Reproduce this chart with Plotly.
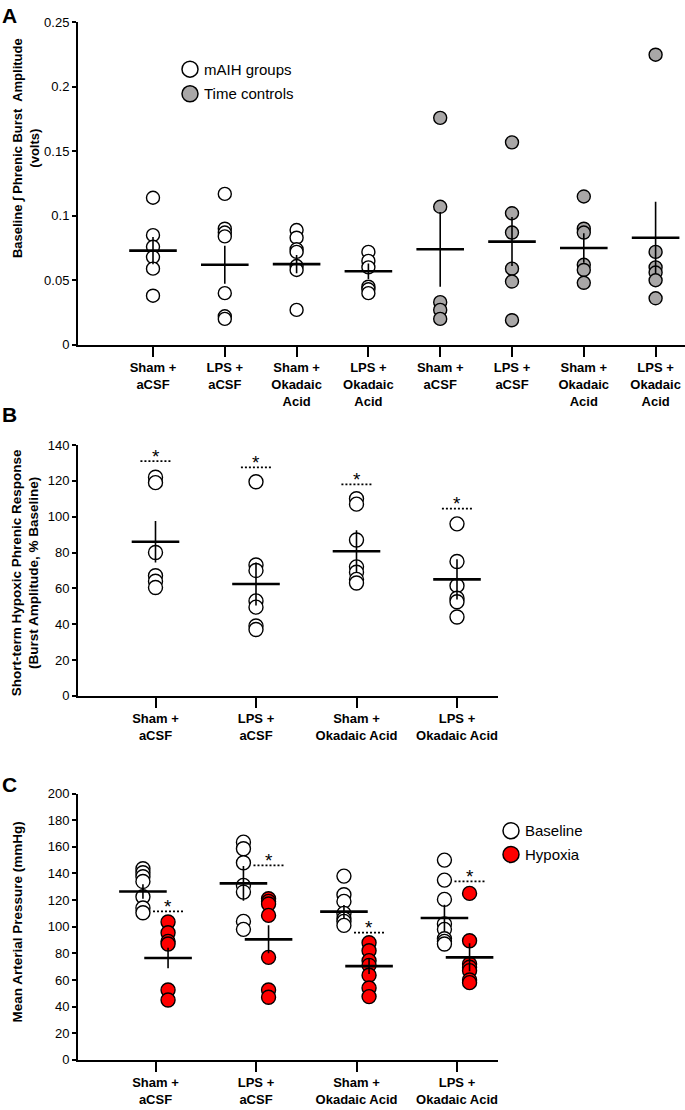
import plotly.graph_objects as go

ARIAL = "Liberation Sans, Arial, sans-serif"

W, H = 685, 1110

# ---------------- Panel A data ----------------
A_labels = ["Sham +<br>aCSF", "LPS +<br>aCSF", "Sham +<br>Okadaic<br>Acid", "LPS +<br>Okadaic<br>Acid",
            "Sham +<br>aCSF", "LPS +<br>aCSF", "Sham +<br>Okadaic<br>Acid", "LPS +<br>Okadaic<br>Acid"]
A_maih = [
    [0.114, 0.085, 0.076, 0.068, 0.059, 0.038],
    [0.117, 0.090, 0.087, 0.084, 0.040, 0.022, 0.020],
    [0.089, 0.083, 0.074, 0.072, 0.061, 0.058, 0.027],
    [0.072, 0.065, 0.060, 0.045, 0.043, 0.040],
]
A_tc = [
    [0.176, 0.107, 0.033, 0.027, 0.020],
    [0.157, 0.102, 0.087, 0.059, 0.049, 0.019],
    [0.115, 0.090, 0.087, 0.062, 0.058, 0.048],
    [0.225, 0.072, 0.060, 0.056, 0.050, 0.036],
]
A_mean = [0.073, 0.062, 0.0625, 0.057, 0.074, 0.080, 0.075, 0.083]
A_sem = [0.0106, 0.0147, 0.007, 0.006, 0.029, 0.019, 0.0115, 0.028]
A_ticks = [0, 0.05, 0.1, 0.15, 0.2, 0.25]
A_ticktext = ["0", "0.05", "0.1", "0.15", "0.2", "0.25"]
A_legend = ["mAIH groups", "Time controls"]

# ---------------- Panel B data ----------------
B_labels = ["Sham +<br>aCSF", "LPS +<br>aCSF", "Sham +<br>Okadaic Acid", "LPS +<br>Okadaic Acid"]
B_vals = [
    [122, 119, 80, 67, 64, 60.5],
    [119.5, 73, 70, 53, 49.5, 39, 37],
    [110, 107, 87, 72, 69, 65, 63],
    [96, 75, 61.5, 54.5, 52.5, 44],
]
B_mean = [86, 62.4, 80.7, 65]
B_sem = [11.6, 12, 11.7, 11.2]
B_sig = [131, 127.5, 118, 104.5]

# ---------------- Panel C data ----------------
C_labels = ["Sham +<br>aCSF", "LPS +<br>aCSF", "Sham +<br>Okadaic Acid", "LPS +<br>Okadaic Acid"]
C_base = [
    [143.5, 140.5, 137.5, 134, 122.5, 114, 110.5],
    [163.5, 158.5, 148, 131, 126, 104, 98],
    [138, 124, 119, 110, 106, 104, 101],
    [150, 135, 120.5, 102, 98, 91, 89, 87],
]
C_hyp = [
    [103.5, 95.5, 89, 87, 52.5, 45],
    [121, 119, 117, 108.5, 77, 52.5, 47],
    [88, 82, 74.5, 71, 63.5, 54, 47.5],
    [125, 89.5, 72, 69.5, 67, 60, 58],
]
C_base_mean = [126.4, 132.5, 111.3, 106.5]
C_base_sem = [5.5, 13, 5, 10]
C_hyp_mean = [76.5, 90.5, 70.4, 77]
C_hyp_sem = [7.7, 10.5, 6, 10.5]
C_sig = [111.5, 146, 95.5, 134]
C_legend = ["Baseline", "Hypoxia"]

GRAY = "#a9a7a7"
RED = "#ff0000"


def flatten(groups, offset=0.0, start=0):
    xs, ys = [], []
    for i, g in enumerate(groups):
        for v in g:
            xs.append(start + i + offset)
            ys.append(v)
    return xs, ys


def px(xp):
    return xp / W


def py(yp):
    return 1 - yp / H


fig = go.Figure()

# ---- Panel A points ----
x, y = flatten(A_maih)
fig.add_trace(go.Scatter(x=x, y=y, mode="markers", name=A_legend[0], xaxis="x", yaxis="y",
                         showlegend=False,
                         marker=dict(size=13, color="white", line=dict(color="black", width=1.4))))
x, y = flatten(A_tc, start=4)
fig.add_trace(go.Scatter(x=x, y=y, mode="markers", name=A_legend[1], xaxis="x", yaxis="y",
                         showlegend=False,
                         marker=dict(size=13, color=GRAY, line=dict(color="black", width=1.4))))


def mean_trace(xs, means, sems, xa, ya):
    return go.Scatter(x=xs, y=means, mode="markers", xaxis=xa, yaxis=ya, showlegend=False,
                      marker=dict(symbol="line-ew", size=34, color="black",
                                  line=dict(color="black", width=2.6)),
                      error_y=dict(type="data", array=sems, visible=True, width=0,
                                   thickness=1.6, color="black"))


fig.add_trace(mean_trace(list(range(8)), A_mean, A_sem, "x", "y"))

# ---- Panel B ----
x, y = flatten(B_vals)
fig.add_trace(go.Scatter(x=x, y=y, mode="markers", xaxis="x2", yaxis="y2", showlegend=False,
                         marker=dict(size=14, color="white", line=dict(color="black", width=1.4))))
fig.add_trace(mean_trace(list(range(4)), B_mean, B_sem, "x2", "y2"))

annotations = []
STAR = dict(family=ARIAL, size=19, color="black")
for i, s in enumerate(B_sig):
    fig.add_trace(go.Scatter(x=[i - 0.15, i + 0.15], y=[s, s], mode="lines", xaxis="x2", yaxis="y2",
                             showlegend=False, line=dict(color="black", width=1.7, dash="2px,2px")))
    annotations.append(dict(x=i, y=s, xref="x2", yref="y2", text="*", showarrow=False,
                            yanchor="middle", yshift=5, font=STAR))

# ---- Panel C ----
OFF = 0.125
x, y = flatten(C_base, offset=-OFF)
fig.add_trace(go.Scatter(x=x, y=y, mode="markers", name=C_legend[0], xaxis="x3", yaxis="y3",
                         showlegend=False,
                         marker=dict(size=14, color="white", line=dict(color="black", width=1.4))))
x, y = flatten(C_hyp, offset=OFF)
fig.add_trace(go.Scatter(x=x, y=y, mode="markers", name=C_legend[1], xaxis="x3", yaxis="y3",
                         showlegend=False,
                         marker=dict(size=14, color=RED, line=dict(color="black", width=1.4))))
fig.add_trace(mean_trace([i - OFF for i in range(4)], C_base_mean, C_base_sem, "x3", "y3"))
fig.add_trace(mean_trace([i + OFF for i in range(4)], C_hyp_mean, C_hyp_sem, "x3", "y3"))
for i, s in enumerate(C_sig):
    h = i + OFF
    fig.add_trace(go.Scatter(x=[h - 0.15, h + 0.15], y=[s, s], mode="lines", xaxis="x3", yaxis="y3",
                             showlegend=False, line=dict(color="black", width=1.7, dash="2px,2px")))
    annotations.append(dict(x=h, y=s, xref="x3", yref="y3", text="*", showarrow=False,
                            yanchor="middle", yshift=5, font=STAR))

# ---- legends drawn as circle + label ----
shapes = []
LEGFONT = dict(family=ARIAL, size=15, color="black")


def legend_item(cx, cy, fill, label):
    shapes.append(dict(type="circle", xref="paper", yref="paper", xsizemode="pixel", ysizemode="pixel",
                       xanchor=px(cx), yanchor=py(cy), x0=-8, x1=8, y0=-8, y1=8,
                       fillcolor=fill, line=dict(color="black", width=1.5)))
    annotations.append(dict(x=px(cx + 12), y=py(cy), xref="paper", yref="paper", text=label,
                            showarrow=False, xanchor="left", yanchor="middle", font=LEGFONT))


legend_item(190, 63, "white", A_legend[0])
legend_item(190, 88, GRAY, A_legend[1])
legend_item(511, 835, "white", C_legend[0])
legend_item(511, 859, RED, C_legend[1])

# panel letters
for letter, yy in [("A", 9), ("B", 413), ("C", 788)]:
    annotations.append(dict(x=px(0), y=py(yy), xref="paper", yref="paper", text="<b>%s</b>" % letter,
                            showarrow=False, xanchor="left", yanchor="middle",
                            font=dict(family=ARIAL, size=21, color="black")))

# y titles
annotations.append(dict(x=px(26), y=py(143), xref="paper", yref="paper",
                        text="<b>Baseline ∫ Phrenic Burst  Amplitude<br>(volts)</b>", textangle=-90,
                        showarrow=False, xanchor="center", yanchor="middle",
                        font=dict(family=ARIAL, size=13, color="black")))
annotations.append(dict(x=px(25), y=py(574), xref="paper", yref="paper",
                        text="<b>Short-term Hypoxic Phrenic Response<br>(Burst Amplitude, % Baseline)</b>",
                        textangle=-90, showarrow=False, xanchor="center", yanchor="middle",
                        font=dict(family=ARIAL, size=13.5, color="black")))
annotations.append(dict(x=px(17), y=py(928), xref="paper", yref="paper",
                        text="<b>Mean Arterial Pressure (mmHg)</b>", textangle=-90,
                        showarrow=False, xanchor="center", yanchor="middle",
                        font=dict(family=ARIAL, size=13.5, color="black")))

tickfont = dict(family=ARIAL, size=13, color="black")
catfont = dict(family=ARIAL, size=13, color="black")

common_x = dict(showline=True, linecolor="black", linewidth=2, showgrid=False, zeroline=False,
                ticks="outside", ticklen=10, tickwidth=2, tickcolor="black", tickfont=catfont,
                fixedrange=True)
common_y = dict(showline=True, linecolor="black", linewidth=2, showgrid=False, zeroline=False,
                ticks="outside", ticklen=4, tickwidth=1.5, tickcolor="black", tickfont=tickfont,
                fixedrange=True)

xA0, xA1 = 78, 685
xB0, xB1 = 78, 498
fig.update_layout(
    width=W, height=H, margin=dict(l=0, r=0, t=0, b=0),
    plot_bgcolor="white", paper_bgcolor="white",
    xaxis=dict(common_x, domain=[px(xA0), px(xA1)], range=[(xA0 - 153) / 71.8, (xA1 - 153) / 71.8],
               tickvals=list(range(8)), ticktext=["<b>%s</b>" % t for t in A_labels], anchor="y"),
    yaxis=dict(common_y, domain=[py(342.3), py(15.7)], range=[0, 0.25], tickvals=A_ticks,
               ticktext=A_ticktext, anchor="x"),
    xaxis2=dict(common_x, domain=[px(xB0), px(xB1)],
                range=[(xB0 - 155.5) / 100.5, (xB1 - 155.5) / 100.5],
                tickvals=list(range(4)), ticktext=["<b>%s</b>" % t for t in B_labels], anchor="y2"),
    yaxis2=dict(common_y, domain=[py(698.3), py(444)], range=[0, 140], dtick=20, anchor="x2"),
    xaxis3=dict(common_x, domain=[px(xB0), px(xB1)],
                range=[(xB0 - 155.5) / 100.5, (xB1 - 155.5) / 100.5],
                tickvals=list(range(4)), ticktext=["<b>%s</b>" % t for t in C_labels], anchor="y3"),
    yaxis3=dict(common_y, domain=[py(1067.3), py(797.3)], range=[0, 200], dtick=20, anchor="x3"),
    annotations=annotations,
    shapes=shapes,
    showlegend=False,
)

POST = (
    "document.documentElement.style.margin='0';"
    "document.documentElement.style.padding='0';"
    "document.documentElement.style.overflow='hidden';"
    "document.body.style.margin='0';document.body.style.padding='0';"
    "document.body.style.overflow='hidden';"
    "var d=document.getElementById('{plot_id}');"
    "d.style.position='fixed';d.style.top='0px';d.style.left='0px';"
)

fig.write_html("out.html", config={"displayModeBar": False}, post_script=POST)
